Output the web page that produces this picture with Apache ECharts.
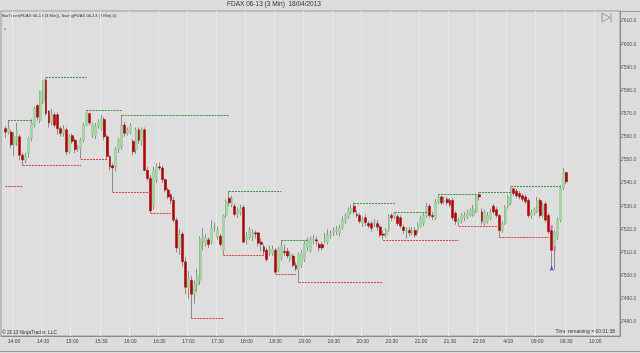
<!DOCTYPE html>
<html>
<head>
<meta charset="utf-8">
<script src="https://cdn.jsdelivr.net/npm/echarts@6/dist/echarts.min.js"></script>
<style>
  html, body { margin: 0; padding: 0; background: #dcdcdc; }
  #chart { width: 640px; height: 353px; }
</style>
</head>
<body>
<div id="chart"></div>
<script>
// bar times (3 min): 13:48 .. 22:00, then next day 08:03 .. 10:24
const sessions = [['13:48', '22:00'], ['08:03', '10:24']]
const tickTimes = ['14:00', '14:30', '15:00', '15:30', '16:00', '16:30', '17:00', '17:30', '18:00', '18:30', '19:00',
  '19:30', '20:00', '20:30', '21:00', '21:30', '22:00', '08:30', '09:00', '09:30', '10:00']
const tickTexts = ['14:00', '14:30', '15:00', '15:30', '16:00', '16:30', '17:00', '17:30', '18:00', '18:30', '19:00',
  '19:30', '20:00', '20:30', '21:00', '21:30', '22:00', '4/19', '09:00', '09:30', '10:00']
const priceTicks = [7480, 7490, 7500, 7510, 7520, 7530, 7540, 7550, 7560, 7570, 7580, 7590, 7600, 7610]

// first candle sits on category 1 (13:51)
const firstBar = 1
const opens = [
  7563.5, 7562, 7562, 7556.5, 7558, 7560, 7552, 7550, 7553, 7559.5,
  7565, 7573.5, 7567, 7575, 7584.5, 7571, 7566.5, 7569.5, 7569.5, 7563.5,
  7561.5, 7563, 7553.5, 7560.5, 7558.5, 7555, 7555, 7558.5, 7565, 7570,
  7561, 7560.5, 7564.5, 7563.5, 7567.5, 7560, 7551.5, 7547.5, 7547, 7554.5,
  7555.5, 7565, 7561.5, 7562, 7558, 7554.5, 7563, 7558, 7563, 7545.5,
  7542, 7530, 7541.5, 7547, 7546.5, 7541.5, 7537, 7535, 7532.5, 7524,
  7512, 7518, 7506, 7495, 7498, 7492, 7496, 7498, 7514.5, 7514,
  7515.5, 7514.5, 7521, 7516.5, 7517, 7511, 7526, 7533.5, 7530.5, 7530,
  7526.5, 7527, 7529.5, 7515.5, 7516.5, 7517, 7518.5, 7518.5, 7514.5, 7512.5,
  7511, 7510.5, 7509.5, 7511, 7502.5, 7507.5, 7510.5, 7510.5, 7507, 7508.5,
  7504.5, 7502.5, 7504.5, 7507, 7512, 7511, 7515.5, 7515.5, 7513.5, 7513.5,
  7515, 7514.5, 7517.5, 7518.5, 7519, 7518.5, 7521, 7523.5, 7525.5, 7527.5,
  7530, 7526.5, 7526, 7522.5, 7525, 7522.5, 7522.5, 7522.5, 7522.5, 7521,
  7518, 7517.5, 7519.5, 7526, 7525.5, 7525.5, 7525, 7521, 7519, 7519.5,
  7518.5, 7519.5, 7519.5, 7521, 7522.5, 7526, 7530, 7526, 7525, 7532,
  7534, 7532, 7533, 7532.5, 7532.5, 7527, 7523, 7523.5, 7525, 7525.5,
  7526, 7526, 7527.5, 7535, 7527.5, 7522.5, 7523.5, 7525, 7530, 7528.5,
  7526, 7519.5, 7522.5, 7530, 7531.5, 7537.5, 7536.5, 7535.5, 7534.5, 7534,
  7532.5, 7526, 7527, 7527.5, 7532.5, 7526, 7531, 7526, 7519.5, 7512.5,
  7517, 7524, 7538, 7544.5
]
const closes = [
  7562, 7563.5, 7556.5, 7560, 7563, 7552, 7550, 7551.5, 7559.5, 7566,
  7572.5, 7568.5, 7579.5, 7584.5, 7570, 7566, 7569.5, 7565, 7563.5, 7561.5,
  7563.5, 7553.5, 7560, 7558, 7554.5, 7555.5, 7558.5, 7565, 7570.5, 7566,
  7565, 7564.5, 7566.5, 7568, 7560, 7551.5, 7547, 7546.5, 7554.5, 7558.5,
  7565, 7561.5, 7563, 7565, 7553.5, 7563, 7558.5, 7563, 7545.5, 7542,
  7528, 7545.5, 7547, 7546.5, 7541.5, 7537, 7534, 7532.5, 7524, 7512,
  7518, 7506, 7495, 7499, 7492, 7496, 7500, 7516, 7517, 7516.5,
  7513.5, 7520.5, 7521.5, 7519.5, 7513.5, 7526, 7532, 7531.5, 7533.5, 7526.5,
  7528, 7529, 7514.5, 7517.5, 7519.5, 7518.5, 7518, 7514, 7513.5, 7510.5,
  7507, 7511.5, 7511.5, 7501.5, 7511.5, 7512.5, 7510, 7508.5, 7509, 7504.5,
  7503, 7509, 7509.5, 7514, 7515.5, 7516, 7516, 7515, 7512, 7512,
  7516, 7517.5, 7518, 7519.5, 7520, 7520.5, 7524, 7526, 7528, 7529,
  7527.5, 7526, 7523.5, 7524, 7523, 7521.5, 7520.5, 7523, 7521, 7517.5,
  7517.5, 7519.5, 7525.5, 7525, 7527, 7522.5, 7521.5, 7519.5, 7519.5, 7518.5,
  7519.5, 7517.5, 7522, 7525, 7526, 7530, 7526, 7525.5, 7532, 7534,
  7531.5, 7532.5, 7531.5, 7530.5, 7525, 7523.5, 7524, 7526, 7526, 7527,
  7528, 7529, 7535, 7534, 7523.5, 7527.5, 7526, 7527.5, 7527.5, 7526,
  7519.5, 7522.5, 7529.5, 7534, 7538, 7535.5, 7534.5, 7534, 7533, 7532,
  7526, 7527.5, 7528.5, 7532.5, 7526, 7530.5, 7524, 7519, 7511, 7518.5,
  7524, 7538, 7544.5, 7540.5
]
const lows = [
  7559.5, 7561, 7555, 7551.5, 7556, 7550, 7547.5, 7548.5, 7551, 7558,
  7564, 7567, 7566, 7574, 7569, 7564, 7565, 7564, 7561, 7560,
  7560, 7552, 7552.5, 7557, 7553, 7553.5, 7550.5, 7557.5, 7564.5, 7565,
  7559.5, 7559, 7563.5, 7562.5, 7558.5, 7550, 7545.5, 7536, 7545, 7553,
  7554.5, 7560, 7560.5, 7561, 7552, 7552.5, 7557, 7556, 7545, 7541,
  7527, 7528.5, 7540, 7545.5, 7540, 7536, 7533, 7531, 7523, 7510,
  7509, 7504, 7492, 7490, 7481.5, 7488, 7493, 7496, 7511, 7512.5,
  7512, 7513.5, 7519, 7515.5, 7512.5, 7509, 7525, 7530, 7529.5, 7525.5,
  7525, 7526, 7514, 7513.5, 7515.5, 7515, 7516, 7512.5, 7510.5, 7508.5,
  7506, 7508.5, 7508.5, 7500.5, 7501.5, 7506.5, 7508.5, 7507.5, 7506, 7503.5,
  7502, 7497, 7503.5, 7506, 7510.5, 7510, 7513.5, 7513, 7510.5, 7511,
  7514, 7513.5, 7516, 7517, 7517.5, 7517, 7520, 7522.5, 7524.5, 7526.5,
  7526.5, 7525, 7522.5, 7521, 7521.5, 7520.5, 7519, 7521, 7519.5, 7516.5,
  7515.5, 7516.5, 7519, 7523.5, 7524.5, 7521.5, 7520.5, 7518, 7516, 7517,
  7517.5, 7516.5, 7518.5, 7520.5, 7521.5, 7525, 7525, 7524, 7524, 7531,
  7530.5, 7531, 7530.5, 7529.5, 7524, 7522, 7521.5, 7522.5, 7523.5, 7524.5,
  7525.5, 7525.5, 7527, 7532.5, 7522, 7521.5, 7522.5, 7524, 7526.5, 7525,
  7516.5, 7518.5, 7522, 7529, 7530.5, 7534.5, 7533.5, 7533, 7532, 7531,
  7525, 7524.5, 7526, 7527, 7525, 7525, 7523, 7518, 7503, 7502.5,
  7515.5, 7523, 7537, 7539.5
]
const highs = [
  7564.5, 7567, 7563, 7562, 7566, 7561, 7553, 7553, 7560, 7567.5,
  7573, 7574, 7580, 7584.5, 7585.5, 7571.5, 7572, 7570.5, 7570.5, 7564.5,
  7565, 7564, 7561, 7561.5, 7559.5, 7556.5, 7559.5, 7566, 7571.5, 7570.5,
  7566, 7566, 7567.5, 7569.5, 7568.5, 7561, 7552, 7548.5, 7555.5, 7559.5,
  7569.5, 7566.5, 7564, 7566, 7559, 7564, 7564, 7564, 7564, 7547,
  7543.5, 7547, 7548.5, 7549, 7547.5, 7542, 7538, 7535.5, 7534, 7525,
  7520, 7519, 7508, 7502, 7500, 7498, 7503, 7517, 7520.5, 7518,
  7516.5, 7524, 7523, 7521, 7518, 7526.5, 7533, 7536.5, 7534.5, 7531,
  7529.5, 7530.5, 7530.5, 7519, 7521, 7520, 7519.5, 7519, 7516, 7513.5,
  7512, 7513, 7513, 7512, 7512.5, 7515.5, 7513.5, 7512, 7510.5, 7509.5,
  7506, 7510, 7511, 7515, 7516.5, 7517, 7517.5, 7517, 7514.5, 7514.5,
  7518.5, 7520, 7519.5, 7521, 7521.5, 7522, 7525.5, 7527, 7529.5, 7530.5,
  7531.5, 7528, 7527, 7525.5, 7526.5, 7523.5, 7523.5, 7524.5, 7524, 7522,
  7519.5, 7520.5, 7526.5, 7527, 7527.5, 7526.5, 7526, 7522, 7521, 7521,
  7521, 7521, 7523, 7526, 7527, 7531.5, 7531, 7527.5, 7533, 7535,
  7534.5, 7534, 7534, 7533.5, 7533.5, 7528, 7525, 7527, 7527.5, 7528.5,
  7529, 7530.5, 7535.5, 7536, 7529, 7528.5, 7527.5, 7529, 7531, 7529.5,
  7526.5, 7523.5, 7530.5, 7535, 7538.5, 7538, 7537.5, 7536.5, 7535.5, 7535,
  7533.5, 7528.5, 7529.5, 7534, 7533.5, 7531.5, 7532, 7527, 7521, 7519.5,
  7525, 7539, 7546.5, 7545
]

// swing lines: [start bar, end bar, price] (bar = category index)
const swingHighs = [
  [2, 10, 7567], [15, 29, 7585.5], [29, 41, 7571.5], [41, 78, 7569.5], [78, 96, 7536.5],
  [96, 105, 7515.5], [121, 135, 7531.5], [135, 146, 7527.5], [150, 163, 7535],
  [164, 175, 7536], [175, 192, 7538.5]
]
const swingLows = [
  [1, 7, 7538.5], [7, 27, 7547.5], [27, 36, 7550.5], [38, 51, 7536], [51, 58, 7527],
  [65, 76, 7481.5], [76, 90, 7509], [94, 101, 7500.5], [102, 131, 7497], [131, 157, 7515.5],
  [157, 171, 7521.5], [171, 188, 7516.5]
]
// signal marks near the morning low
const pinkMarks = [[189, 7521], [190, 7511.5]]
const blueMarks = [[189, 7504.5]]

const categories = []
sessions.forEach(([a, b]) => {
  let [h, m] = a.split(':').map(Number)
  const end = b.split(':').map(Number)
  while (h < end[0] || (h === end[0] && m <= end[1])) {
    categories.push(String(h).padStart(2, '0') + ':' + String(m).padStart(2, '0'))
    m += 3
    if (m >= 60) { m -= 60; h += 1 }
  }
})

const wickData = categories.map(() => '-')
const bodyData = categories.map(() => '-')
opens.forEach((o, i) => {
  const c = closes[i]
  wickData[i + firstBar] = [o, c, lows[i], highs[i]]
  bodyData[i + firstBar] = [o, c, Math.min(o, c), Math.max(o, c)]
})
const lastClose = closes[closes.length - 1]

const segs = (list) => list.map(([s, e, p]) => ({ coords: [[s, p], [e, p]] }))
const isTick = (idx, val) => tickTimes.includes(val)

const chart = echarts.init(document.getElementById('chart'))
chart.setOption({
  animation: false,
  backgroundColor: '#dcdcdc',
  textStyle: { fontFamily: 'Liberation Sans, Arial, sans-serif' },
  grid: {
    left: 1, right: 20, top: 11, bottom: 17,
    show: true, backgroundColor: '#dedede', borderColor: '#9a9a9a', borderWidth: 1
  },
  xAxis: {
    type: 'category',
    data: categories,
    boundaryGap: true,
    axisLine: { lineStyle: { color: '#8a8a8a' } },
    axisTick: { show: false },
    axisLabel: {
      interval: isTick,
      formatter: (v) => tickTexts[tickTimes.indexOf(v)],
      fontSize: 5, color: '#444', margin: 3
    },
    splitLine: { show: true, interval: isTick, lineStyle: { color: '#e9e9e9', width: 1 } }
  },
  yAxis: {
    type: 'value',
    position: 'right',
    min: 7473.95,
    max: 7614.32,
    axisLine: { show: true, lineStyle: { color: '#8a8a8a' } },
    axisTick: { show: true, customValues: priceTicks, length: 2, lineStyle: { color: '#777' } },
    axisLabel: {
      customValues: priceTicks,
      formatter: (v) => v.toFixed(1),
      fontSize: 5, color: '#555', margin: 1
    },
    splitLine: { show: false }
  },
  series: [
    {
      type: 'candlestick',
      name: 'wicks',
      data: wickData,
      barWidth: 1,
      itemStyle: { color: 'transparent', color0: 'transparent', borderColor: '#8c8c8c', borderColor0: '#8c8c8c', borderWidth: 1 }
    },
    {
      type: 'candlestick',
      name: 'bodies',
      data: bodyData,
      barWidth: 2.4,
      itemStyle: { color: '#a4d6a4', color0: '#b40000', borderColor: '#8cc68c', borderColor0: '#a00000', borderWidth: 0.5 },
      markLine: {
        silent: true,
        symbol: 'none',
        data: [{ yAxis: lastClose }],
        lineStyle: { opacity: 0 },
        label: {
          position: 'end', distance: 2,
          formatter: () => lastClose.toFixed(1),
          backgroundColor: '#000', color: '#fff', fontSize: 5, padding: [1, 2]
        }
      }
    },
    {
      type: 'lines',
      coordinateSystem: 'cartesian2d',
      data: segs(swingHighs),
      lineStyle: { color: '#3f8f3f', width: 1, type: [2, 1], opacity: 1 },
      z: 3
    },
    {
      type: 'lines',
      coordinateSystem: 'cartesian2d',
      data: segs(swingLows),
      lineStyle: { color: '#e23a3a', width: 1, type: [2, 1], opacity: 1 },
      z: 3
    },
    {
      type: 'scatter',
      data: pinkMarks,
      symbol: 'rect',
      symbolSize: [2, 4],
      itemStyle: { color: '#ff30ff' },
      z: 4
    },
    {
      type: 'scatter',
      data: blueMarks,
      symbol: 'arrow',
      symbolSize: [3, 6],
      itemStyle: { color: '#1a2fe0' },
      z: 4
    }
  ],
  graphic: [
    { type: 'text', left: 227, top: 1, style: { text: 'FDAX 06-13 (3 Min)  18/04/2013', fontSize: 6.5, fill: '#333' } },
    { type: 'text', left: 2, top: 14, style: { text: 'BarTimer(FDAX 06-13 (3 Min)), Swing(FDAX 06-13 (3 Min),5)', fontSize: 4.2, fill: '#333' } },
    { type: 'rect', shape: { x: 4, y: 28, width: 2, height: 2 }, style: { fill: '#7cc47c' } },
    { type: 'text', left: 2, top: 330, style: { text: '© 2013 NinjaTrader, LLC', fontSize: 5, fill: '#333' } },
    { type: 'text', right: 25, top: 329, style: { text: 'Time remaining = 00:01:38', fontSize: 5, fill: '#333' } },
    { type: 'line', shape: { x1: 620, y1: 11.5, x2: 640, y2: 11.5 }, style: { stroke: '#9a9a9a', lineWidth: 1 } },
    { type: 'line', shape: { x1: 0, y1: 351.5, x2: 640, y2: 351.5 }, style: { stroke: '#9a9a9a', lineWidth: 1 } },
    { type: 'polyline', shape: { points: [[602, 13], [610, 17.5], [602, 22], [602, 13]] }, style: { stroke: '#888', fill: null, lineWidth: 0.8 } },
    { type: 'line', shape: { x1: 611, y1: 13, x2: 611, y2: 22 }, style: { stroke: '#888', lineWidth: 0.8 } }
  ]
})
</script>
</body>
</html>
